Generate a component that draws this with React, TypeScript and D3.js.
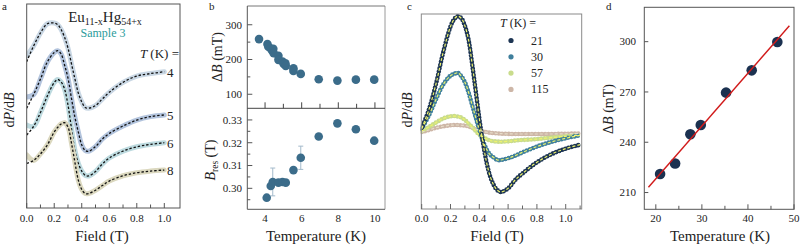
import React from 'react';
import * as d3 from 'd3';

const FONT = 'Liberation Serif, DejaVu Serif, serif';
const INK = '#222';

// ---- panel a: derivative spectra of sample 3 (stacked, arb. units) ----
const fieldA = [0, 0.05, 0.1, 0.15, 0.2, 0.225, 0.25, 0.275, 0.3, 0.325, 0.35, 0.375, 0.4, 0.425, 0.45, 0.5, 0.55, 0.6, 0.7, 0.8, 0.9, 1.0];
const fitA4 = [7.17, 7.94, 8.58, 9.03, 9.07, 8.99, 8.75, 8.37, 7.84, 7.08, 6.34, 5.64, 5.2, 4.93, 4.89, 5.02, 5.35, 5.67, 6.16, 6.47, 6.59, 6.68];
const fitA5 = [4.89, 5.56, 6.32, 7.16, 7.62, 7.71, 7.55, 7.01, 6.37, 5.39, 4.46, 3.73, 3.09, 2.82, 2.78, 3.01, 3.38, 3.65, 4.02, 4.31, 4.48, 4.56];
const fitA6 = [3.58, 4.0, 4.68, 5.49, 6.15, 6.3, 6.18, 5.83, 5.05, 3.92, 2.84, 2.19, 1.81, 1.6, 1.57, 1.79, 2.16, 2.45, 2.79, 3.0, 3.12, 3.2];
const fitA8 = [2.19, 2.33, 2.65, 3.09, 3.73, 3.95, 4.12, 4.18, 3.97, 3.19, 2.25, 1.37, 0.91, 0.71, 0.71, 0.87, 1.1, 1.32, 1.58, 1.73, 1.81, 1.86];
// measured traces sit a little above the fit at the lowest fields
const dataStartA = [7.45, 5.44, 4.07, 2.6];
const tempsA = ['4', '5', '6', '8'];
const bandColorsA = ['#c9d7e4', '#b3c4dd', '#bddadf', '#dbd8bf'];
const ticksA = [0, 0.1, 0.2, 0.3, 0.4, 0.5, 0.6, 0.7, 0.8, 0.9, 1.0];

// ---- panel b: linewidth and resonance field vs temperature ----
const tempWidthB = [3.67, 4.13, 4.18, 4.31, 4.38, 4.45, 4.47, 4.73, 4.73, 4.95, 5.02, 5.11, 5.13, 5.55, 5.55, 5.95, 6.93, 7.95, 8.96, 9.96];
const widthB = [258.7, 244.3, 236.5, 231.6, 225.9, 230.7, 218.3, 210.5, 199, 194.1, 187.4, 189.4, 181.7, 175, 167.2, 158.6, 143.3, 139.3, 142.1, 142.1];
const tempResB = [4.09, 4.31, 4.42, 4.73, 4.95, 5.13, 5.55, 5.95, 6.93, 7.95, 8.96, 9.96];
const resB = [0.2959, 0.301, 0.3028, 0.3025, 0.3028, 0.3025, 0.308, 0.3134, 0.3227, 0.3285, 0.3259, 0.3209];
const resErrB = [0, 0, 0.0061, 0, 0, 0, 0, 0.0051, 0, 0, 0, 0];
const ticksBx = [4, 5, 6, 7, 8, 9, 10];
const ticksBtop = [100, 150, 200, 250, 300];
const ticksBbot = [0.295, 0.3, 0.305, 0.31, 0.315, 0.32, 0.325, 0.33];

// ---- panel c: spectra at higher temperature ----
const fieldC = [0, 0.05, 0.1, 0.15, 0.2, 0.225, 0.25, 0.275, 0.3, 0.325, 0.35, 0.375, 0.4, 0.425, 0.45, 0.475, 0.5, 0.525, 0.55, 0.6, 0.65, 0.7, 0.8, 0.9, 1.0, 1.1];
const specC21 = [0.024, 0.186, 0.414, 0.688, 0.908, 0.971, 0.998, 0.98, 0.914, 0.795, 0.585, 0.349, 0.11, -0.098, -0.27, -0.393, -0.47, -0.514, -0.53, -0.498, -0.424, -0.369, -0.272, -0.202, -0.153, -0.119];
const specC30 = [0.02, 0.136, 0.277, 0.406, 0.481, 0.496, 0.506, 0.477, 0.424, 0.337, 0.227, 0.118, 0.01, -0.087, -0.158, -0.206, -0.231, -0.252, -0.252, -0.237, -0.214, -0.186, -0.135, -0.095, -0.063, -0.037];
const specC57 = [0, 0.035, 0.074, 0.109, 0.128, 0.13, 0.126, 0.117, 0.096, 0.065, 0.035, 0, -0.033, -0.052, -0.07, -0.083, -0.089, -0.092, -0.093, -0.09, -0.083, -0.078, -0.07, -0.057, -0.046, -0.035];
const specC115 = [-0.009, 0.009, 0.028, 0.041, 0.05, 0.052, 0.052, 0.05, 0.047, 0.039, 0.028, 0.017, 0.006, -0.003, -0.01, -0.015, -0.018, -0.021, -0.023, -0.025, -0.026, -0.026, -0.026, -0.026, -0.024, -0.021];
const tempsC = ['21', '30', '57', '115'];
const colorsC = ['#1d3553', '#3f7f9c', '#c9dc8c', '#cdb6a7'];
const ticksC = [0, 0.1, 0.2, 0.3, 0.4, 0.5, 0.6, 0.7, 0.8, 0.9, 1.0, 1.1];

// ---- panel d: linewidth vs temperature with linear fit ----
const tempD = [20.93, 24.19, 27.5, 29.76, 35.25, 40.82, 46.38];
const widthD = [221.1, 227.3, 244.8, 250.3, 269.6, 282.9, 299.8];
const fitSlopeD = 3.146;
const fitInterceptD = 155.3;
const fitRangeD = [18.4, 49.0];
const ticksDx = [20, 25, 30, 35, 40, 45, 50];
const ticksDy = [210, 240, 270, 300];

// scales
const xA = d3.scaleLinear().domain([0, 1.114]).range([26.7, 180]);
const yA = d3.scaleLinear().domain([0, 10]).range([208, 4]);
const xB = d3.scaleLinear().domain([3.03, 10.55]).range([247.3, 385]);
const yBtop = d3.scaleLinear().domain([59.6, 354]).range([108.3, 6]);
const yBbot = d3.scaleLinear().domain([0.2908, 0.3351]).range([209.3, 108.3]);
const xC = d3.scaleLinear().domain([0, 1.111]).range([421.7, 581.7]);
const yC = d3.scaleLinear().domain([-0.678, 1.017]).range([209, 14]);
const xD = d3.scaleLinear().domain([17.5, 50]).range([644.3, 794]);
const yD = d3.scaleLinear().domain([200, 320.5]).range([209.3, 7.3]);

const smooth = (xs: d3.ScaleLinear<number, number>, ys: d3.ScaleLinear<number, number>) =>
  d3.line<[number, number]>()
    .x(d => xs(d[0]))
    .y(d => ys(d[1]))
    .curve(d3.curveCatmullRom.alpha(0.5));

const zip = (a: number[], b: number[]) => a.map((v, i) => [v, b[i]] as [number, number]);

const fmt1 = d3.format('.1f');
const fmt2 = d3.format('.2f');

const PanelA = () => {
  const line = smooth(xA, yA);
  const fits = [fitA4, fitA5, fitA6, fitA8];
  const [left, right] = xA.range();
  const [bottom, top] = yA.range();
  return (
    <g>
      <defs>
        <clipPath id="clip-a"><rect x={left} y={top} width={right - left} height={bottom - top} /></clipPath>
      </defs>
      <text x={2} y={10} fontSize={11}>a</text>
      <g clipPath="url(#clip-a)">
        {fits.map((f, i) => {
          const band = f.slice();
          band[0] = dataStartA[i];
          return (
            <g key={i}>
              <path d={line(zip(fieldA, band)) || ''} fill="none" stroke={bandColorsA[i]} strokeWidth={5} strokeLinecap="round" />
              <path d={line(zip(fieldA, f)) || ''} fill="none" stroke="#111" strokeWidth={1.3} strokeDasharray="2.4 1.9" />
            </g>
          );
        })}
      </g>
      {fits.map((f, i) => (
        <text key={i} x={167} y={yA(f[f.length - 1]) + 5} fontSize={13}>{tempsA[i]}</text>
      ))}
      <rect x={left} y={top} width={right - left} height={bottom - top} fill="none" stroke="#555" strokeWidth={1} />
      {ticksA.map((t, i) => (
        <g key={t}>
          <line x1={xA(t)} x2={xA(t)} y1={bottom} y2={bottom - (i % 2 === 0 ? 5 : 3.5)} stroke="#555" />
          {i % 2 === 0 && <text x={xA(t)} y={222} fontSize={11} textAnchor="middle">{fmt1(t)}</text>}
        </g>
      ))}
      <text x={105} y={22} fontSize={15} textAnchor="middle">
        Eu<tspan fontSize={10} dy={3}>11-x</tspan><tspan dy={-3}>Hg</tspan><tspan fontSize={10} dy={3}>54+x</tspan>
      </text>
      <text x={103} y={36.5} fontSize={12} textAnchor="middle" fill="#2b9c9b">Sample 3</text>
      <text x={179} y={57.5} fontSize={13} textAnchor="end"><tspan fontStyle="italic">T</tspan> (K) =</text>
      <text transform="translate(14,110) rotate(-90)" fontSize={14} textAnchor="middle">
        d<tspan fontStyle="italic">P</tspan>/d<tspan fontStyle="italic">B</tspan>
      </text>
      <text x={102} y={241} fontSize={15} textAnchor="middle">Field (T)</text>
    </g>
  );
};

const PanelB = () => {
  const [left, right] = xB.range();
  const top = yBtop.range()[1];
  const mid = yBtop.range()[0];
  const bottom = yBbot.range()[0];
  const dot = '#3b6c8a';
  return (
    <g>
      <text x={209} y={10} fontSize={11}>b</text>
      {/* frame: right edge drawn lighter */}
      <line x1={right} x2={right} y1={top} y2={bottom} stroke="#9a9a9a" />
      <line x1={left} x2={right} y1={top} y2={top} stroke="#777" />
      <line x1={left} x2={left} y1={top} y2={bottom} stroke="#555" />
      <line x1={left} x2={right} y1={mid} y2={mid} stroke="#444" />
      <line x1={left} x2={right} y1={bottom} y2={bottom} stroke="#555" />
      {ticksBx.map(t => (
        <line key={t} x1={xB(t)} x2={xB(t)} y1={mid} y2={mid - (t % 2 === 0 ? 6 : 4.5)} stroke="#444" />
      ))}
      {ticksBtop.map(t => (
        <g key={t}>
          <line x1={left} x2={left + (t % 100 === 0 ? 5 : 3)} y1={yBtop(t)} y2={yBtop(t)} stroke="#555" />
          {t % 100 === 0 && <text x={242} y={yBtop(t) + 3.8} fontSize={11} textAnchor="end">{t}</text>}
        </g>
      ))}
      {ticksBbot.map((t, i) => (
        <g key={t}>
          <line x1={left} x2={left + (i % 2 === 1 ? 5 : 3)} y1={yBbot(t)} y2={yBbot(t)} stroke="#555" />
          {i % 2 === 1 && <text x={242} y={yBbot(t) + 3.8} fontSize={11} textAnchor="end">{fmt2(t)}</text>}
        </g>
      ))}
      {[4, 6, 8, 10].map(t => (
        <text key={t} x={xB(t)} y={222} fontSize={11} textAnchor="middle">{t}</text>
      ))}
      {tempWidthB.map((t, i) => (
        <circle key={i} cx={xB(t)} cy={yBtop(widthB[i])} r={4.3} fill={dot} />
      ))}
      {tempResB.map((t, i) => resErrB[i] > 0 && (
        <g key={'e' + i} stroke="#a3bacb" strokeWidth={1}>
          <line x1={xB(t)} x2={xB(t)} y1={yBbot(resB[i] - resErrB[i])} y2={yBbot(resB[i] + resErrB[i])} />
          <line x1={xB(t) - 2.5} x2={xB(t) + 2.5} y1={yBbot(resB[i] - resErrB[i])} y2={yBbot(resB[i] - resErrB[i])} />
          <line x1={xB(t) - 2.5} x2={xB(t) + 2.5} y1={yBbot(resB[i] + resErrB[i])} y2={yBbot(resB[i] + resErrB[i])} />
        </g>
      ))}
      {tempResB.map((t, i) => (
        <circle key={i} cx={xB(t)} cy={yBbot(resB[i])} r={4.3} fill={dot} />
      ))}
      <text transform="translate(222,57) rotate(-90)" fontSize={14} textAnchor="middle">
        Δ<tspan fontStyle="italic">B</tspan> (mT)
      </text>
      <text transform="translate(215,160) rotate(-90)" fontSize={14} textAnchor="middle">
        <tspan fontStyle="italic">B</tspan><tspan fontSize={9.5} dy={3}>res</tspan><tspan dy={-3}> (T)</tspan>
      </text>
      <text x={316} y={241} fontSize={15} textAnchor="middle">Temperature (K)</text>
    </g>
  );
};

const PanelC = () => {
  const line = smooth(xC, yC);
  const specs = [specC21, specC30, specC57, specC115];
  const [left, right] = xC.range();
  const [bottom, top] = yC.range();
  const order = [3, 2, 1, 0];
  return (
    <g>
      <defs>
        <clipPath id="clip-c"><rect x={left - 1} y={top - 3} width={right - left + 1} height={bottom - top + 3} /></clipPath>
      </defs>
      <text x={407} y={10} fontSize={11}>c</text>
      <g clipPath="url(#clip-c)">
        {order.map(i => (
          <path key={'d' + i} d={line(zip(fieldC, specs[i])) || ''} fill="none" stroke={colorsC[i]}
            strokeWidth={4.6} strokeLinecap="round" strokeDasharray="0 3.3" />
        ))}
        {order.map(i => (
          <path key={'f' + i} d={line(zip(fieldC, specs[i])) || ''} fill="none"
            stroke={i === 3 ? '#e6dcc8' : '#eef36c'} strokeWidth={1.2} strokeDasharray="3 2" />
        ))}
      </g>
      <rect x={421.3} y={top} width={right - 421.3} height={bottom - top} fill="none" stroke="#8a8a8a" />
      {ticksC.map((t, i) => (
        <g key={t}>
          <line x1={xC(t)} x2={xC(t)} y1={bottom} y2={bottom - (i % 2 === 0 ? 5 : 3.5)} stroke="#666" />
          {i % 2 === 0 && <text x={xC(t)} y={222} fontSize={11} textAnchor="middle">{fmt1(t)}</text>}
        </g>
      ))}
      <text x={500} y={27} fontSize={12}><tspan fontStyle="italic">T</tspan> (K) =</text>
      {tempsC.map((t, i) => (
        <g key={t}>
          <circle cx={511} cy={40.5 + i * 16.3} r={2.6} fill={colorsC[i]} />
          <text x={531} y={44.5 + i * 16.3} fontSize={12}>{t}</text>
        </g>
      ))}
      <text transform="translate(412,110) rotate(-90)" fontSize={14} textAnchor="middle">
        d<tspan fontStyle="italic">P</tspan>/d<tspan fontStyle="italic">B</tspan>
      </text>
      <text x={497} y={241} fontSize={15} textAnchor="middle">Field (T)</text>
    </g>
  );
};

const PanelD = () => {
  const [left, right] = xD.range();
  const [bottom, top] = yD.range();
  const fit = fitRangeD.map(t => [t, fitInterceptD + fitSlopeD * t] as [number, number]);
  return (
    <g>
      <text x={606} y={10} fontSize={11}>d</text>
      <rect x={left} y={top} width={right - left} height={bottom - top} fill="none" stroke="#555" />
      {ticksDx.map(t => (
        <g key={t}>
          <line x1={xD(t)} x2={xD(t)} y1={bottom} y2={bottom - (t % 10 === 0 ? 5 : 3.5)} stroke="#555" />
          {t % 10 === 0 && <text x={xD(t)} y={222} fontSize={11} textAnchor="middle">{t}</text>}
        </g>
      ))}
      {ticksDy.map(t => (
        <g key={t}>
          <line x1={left} x2={left + 4} y1={yD(t)} y2={yD(t)} stroke="#555" />
          <text x={636} y={yD(t) + 3.8} fontSize={11} textAnchor="end">{t}</text>
        </g>
      ))}
      {tempD.map((t, i) => (
        <circle key={i} cx={xD(t)} cy={yD(widthD[i])} r={5.3} fill="#1b3150" />
      ))}
      <line x1={xD(fit[0][0])} y1={yD(fit[0][1])} x2={xD(fit[1][0])} y2={yD(fit[1][1])} stroke="#d11a1a" strokeWidth={1.4} />
      <text transform="translate(613,109) rotate(-90)" fontSize={14} textAnchor="middle">
        Δ<tspan fontStyle="italic">B</tspan> (mT)
      </text>
      <text x={720} y={241} fontSize={15} textAnchor="middle">Temperature (K)</text>
    </g>
  );
};

export default function App() {
  return (
    <div style={{ position: 'fixed', left: 0, top: 0 }}>
      <svg width={800} height={246} style={{ display: 'block', background: '#fff', fontFamily: FONT }} fill={INK}>
        <PanelA />
        <PanelB />
        <PanelC />
        <PanelD />
      </svg>
    </div>
  );
}
